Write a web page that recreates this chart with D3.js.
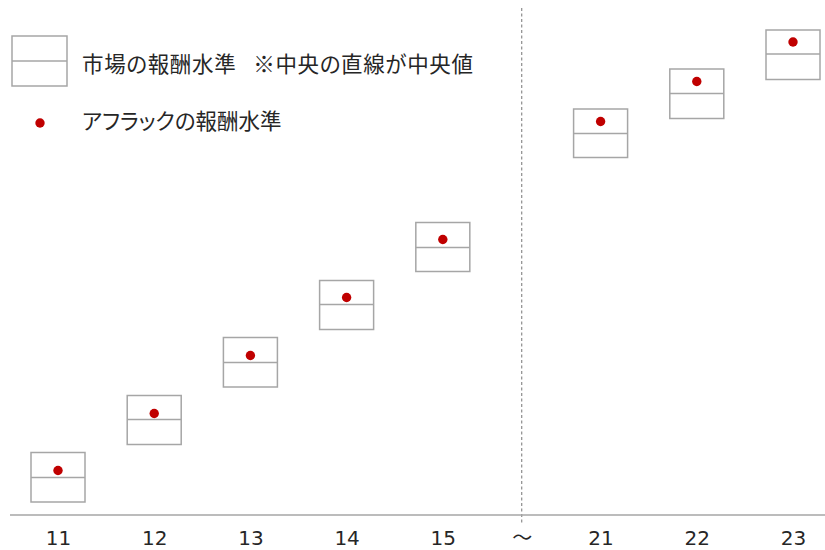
<!DOCTYPE html>
<html>
<head>
<meta charset="utf-8">
<script src="https://cdn.jsdelivr.net/npm/d3@7"></script>
<style>
  body { margin: 0; background: #fff; }
  text { fill: #262626; }
  .legend-text { font-feature-settings: "palt" 1; }
</style>
</head>
<body>
<svg id="chart" width="825" height="550"></svg>
<script>
// age / grade categories on the x axis
const categories = ['11', '12', '13', '14', '15', '21', '22', '23'];
const breakLabel = '～';

// market pay range (top / median / bottom) and Aflac level, arbitrary units
const marketTop    = [12.5, 23.9, 35.5, 46.9, 58.5, 81.2, 89.2, 97.0];
const marketMedian = [ 7.5, 19.1, 30.5, 42.1, 53.5, 76.3, 84.3, 92.2];
const marketBottom = [ 2.6, 14.1, 25.6, 37.1, 48.7, 71.5, 79.3, 87.1];
const aflacLevel   = [ 8.9, 20.3, 31.9, 43.5, 55.1, 78.7, 86.7, 94.6];

const legendMarket = '市場の報酬水準\u2002 ※中央の直線が中央値';
const legendAflac = 'アフラックの報酬水準';

const width = 825, height = 550;
const axisY = 515;
const boxWidth = 54;
const breakGap = 0.64;   // extra slot space for the ～ break

const slot = i => i < 5 ? i : i + breakGap;
const breakSlot = 4 + (1 + breakGap) / 2;

const svg = d3.select('#chart');

const x = d3.scaleLinear()
  .domain([0, slot(categories.length - 1)])
  .range([58, 793]);

const y = d3.scaleLinear()
  .domain([0, 100])
  .range([axisY, 15]);

const rows = categories.map((c, i) => ({
  cat: c,
  pos: slot(i),
  top: marketTop[i],
  med: marketMedian[i],
  bot: marketBottom[i],
  val: aflacLevel[i]
}));

// dashed break line
svg.append('line')
  .attr('x1', x(breakSlot)).attr('x2', x(breakSlot))
  .attr('y1', 8).attr('y2', axisY + 8)
  .attr('stroke', '#8c8c8c')
  .attr('stroke-width', 1.2)
  .attr('stroke-dasharray', '3,2.5');

// axis baseline
svg.append('line')
  .attr('x1', 10).attr('x2', width)
  .attr('y1', axisY).attr('y2', axisY)
  .attr('stroke', '#a6a6a6')
  .attr('stroke-width', 1.5);

// tick labels
const tickVals = rows.map(d => d.pos).concat([breakSlot]).sort((a, b) => a - b);
const labelOf = v => {
  const r = rows.find(d => d.pos === v);
  return r ? r.cat : breakLabel;
};

const axis = svg.append('g')
  .attr('transform', `translate(0,${axisY})`)
  .call(d3.axisBottom(x).tickValues(tickVals).tickSize(0).tickPadding(16).tickFormat(labelOf));
axis.select('.domain').remove();
axis.selectAll('.tick text')
  .attr('fill', '#262626')
  .attr('font-family', d => labelOf(d) === breakLabel ? '"Noto Sans CJK JP"' : '"DejaVu Sans", Verdana, sans-serif')
  .attr('font-size', 20);

// market boxes
const boxes = svg.append('g').selectAll('g.box')
  .data(rows)
  .join('g')
  .attr('class', 'box');

boxes.append('rect')
  .attr('x', d => x(d.pos) - boxWidth / 2)
  .attr('y', d => y(d.top))
  .attr('width', boxWidth)
  .attr('height', d => y(d.bot) - y(d.top))
  .attr('fill', 'none')
  .attr('stroke', '#a6a6a6')
  .attr('stroke-width', 1.5);

boxes.append('line')
  .attr('x1', d => x(d.pos) - boxWidth / 2)
  .attr('x2', d => x(d.pos) + boxWidth / 2)
  .attr('y1', d => y(d.med))
  .attr('y2', d => y(d.med))
  .attr('stroke', '#a6a6a6')
  .attr('stroke-width', 1.5);

// aflac dots
svg.append('g').selectAll('circle')
  .data(rows)
  .join('circle')
  .attr('cx', d => x(d.pos))
  .attr('cy', d => y(d.val))
  .attr('r', 4.7)
  .attr('fill', '#c00000');

// legend
const legend = svg.append('g');
legend.append('rect')
  .attr('x', 12).attr('y', 36)
  .attr('width', 55).attr('height', 50)
  .attr('fill', 'none')
  .attr('stroke', '#a6a6a6')
  .attr('stroke-width', 1.5);
legend.append('line')
  .attr('x1', 12).attr('x2', 67)
  .attr('y1', 61).attr('y2', 61)
  .attr('stroke', '#a6a6a6')
  .attr('stroke-width', 1.5);
legend.append('text')
  .attr('class', 'legend-text')
  .attr('x', 82).attr('y', 62)
  .attr('dominant-baseline', 'central')
  .attr('font-family', '"Noto Sans CJK JP", sans-serif')
  .attr('font-size', 21.5)
  .attr('textLength', 391)
  .attr('lengthAdjust', 'spacing')
  .text(legendMarket);

legend.append('circle')
  .attr('cx', 40).attr('cy', 123)
  .attr('r', 4.7)
  .attr('fill', '#c00000');
legend.append('text')
  .attr('class', 'legend-text')
  .attr('x', 82).attr('y', 119)
  .attr('dominant-baseline', 'central')
  .attr('font-family', '"Noto Sans CJK JP", sans-serif')
  .attr('font-size', 21.5)
  .text(legendAflac);
</script>
</body>
</html>
